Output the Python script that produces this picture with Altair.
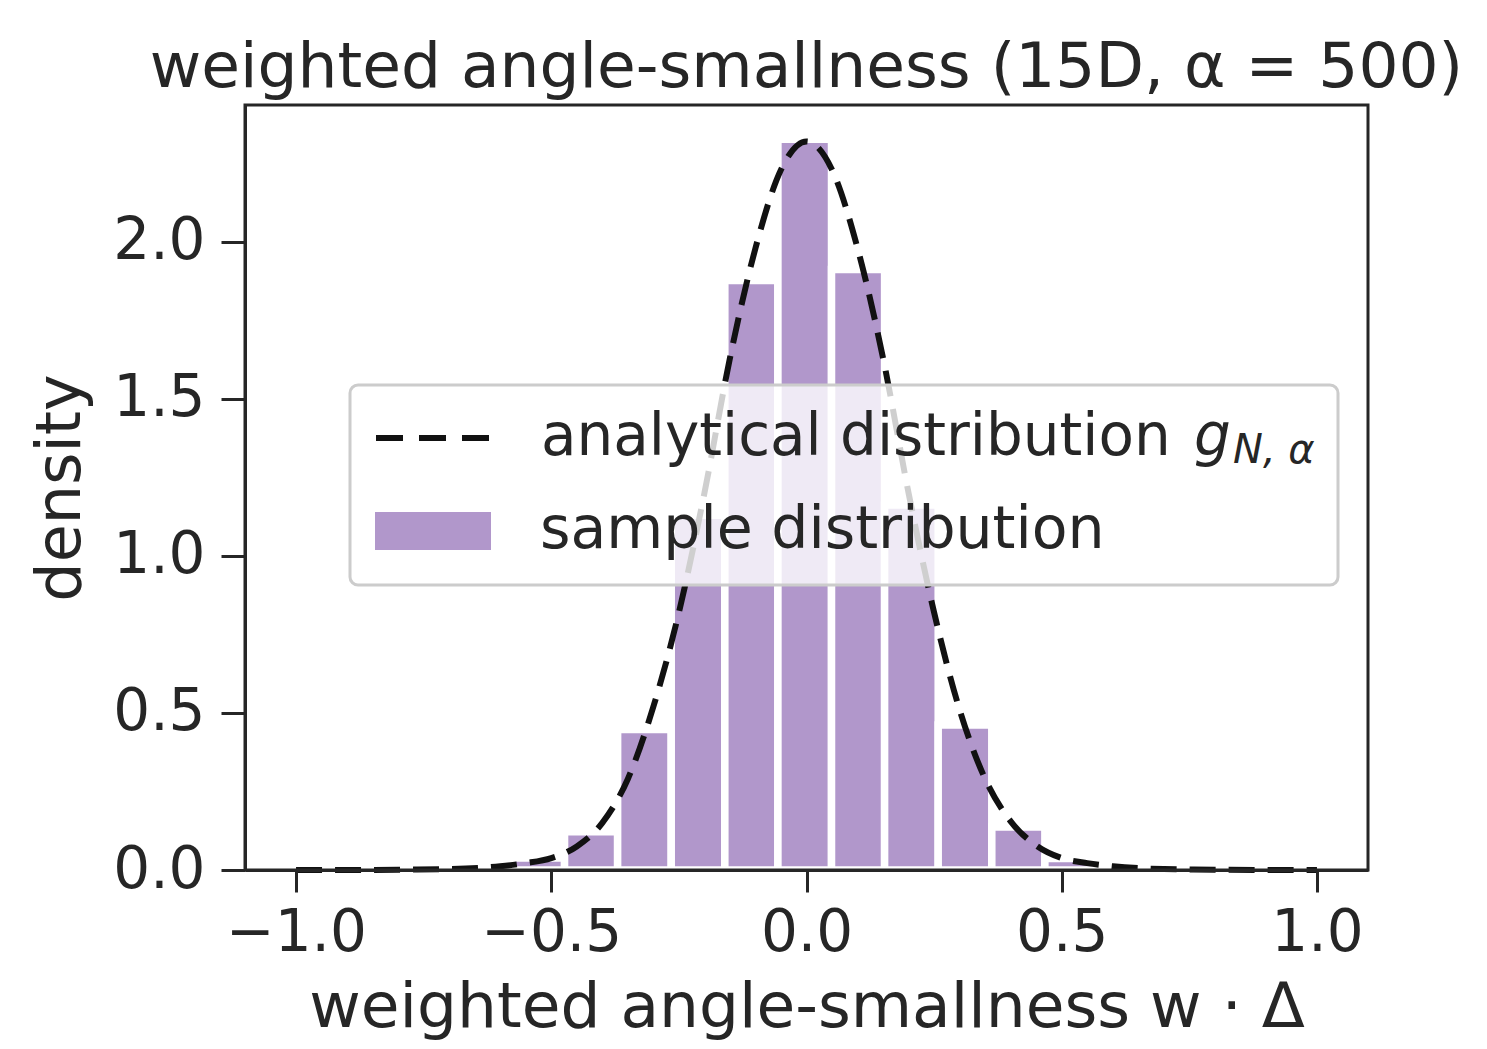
import altair as alt
import pandas as pd

# ---- data ----
bin_start = [-0.579, -0.474, -0.370, -0.265, -0.160, -0.056, 0.049, 0.153, 0.258, 0.363, 0.467]
bin_end = [-0.474, -0.370, -0.265, -0.160, -0.056, 0.049, 0.153, 0.258, 0.363, 0.467, 0.572]
bin_density = [0.038, 0.122, 0.447, 1.13, 1.877, 2.327, 1.912, 1.162, 0.462, 0.137, 0.037]

curve_x = [-1.0, -0.9, -0.8, -0.7, -0.6, -0.55, -0.5, -0.45, -0.4, -0.35, -0.3, -0.25, -0.2,
           -0.15, -0.1, -0.05, 0.0, 0.05, 0.1, 0.15, 0.2, 0.25, 0.3, 0.35, 0.4, 0.45, 0.5,
           0.55, 0.6, 0.7, 0.8, 0.9, 1.0]
curve_y = [0.0, 0.0, 0.001, 0.003, 0.012, 0.022, 0.038, 0.075, 0.15, 0.29, 0.52, 0.82, 1.20,
           1.63, 1.98, 2.23, 2.32, 2.23, 1.98, 1.63, 1.20, 0.82, 0.51, 0.29, 0.155, 0.078, 0.038,
           0.022, 0.012, 0.003, 0.001, 0.0, 0.0]

x_ticks = [-1.0, -0.5, 0.0, 0.5, 1.0]
y_ticks = [0.0, 0.5, 1.0, 1.5, 2.0]

title_text = "weighted angle-smallness (15D, α = 500)"
x_title = "weighted angle-smallness w · Δ"
y_title = "density"
legend_line_label = "analytical distribution"
legend_line_sym = "g"
legend_line_sub = "N, α"
legend_bar_label = "sample distribution"

FONT = "DejaVu Sans"
INK = "#262626"
PURPLE = "#b197cb"

W, H = 1123, 765

bars_df = pd.DataFrame({"start": bin_start, "end": bin_end, "density": bin_density})
curve_df = pd.DataFrame({"x": curve_x, "y": curve_y})
one = pd.DataFrame({"k": [0]})

xscale = alt.Scale(domain=[-1.1, 1.1], nice=False, zero=False)
yscale = alt.Scale(domain=[0, 2.436], nice=False, zero=False)

xaxis = alt.Axis(values=x_ticks, format=".1f", grid=False, domain=True, domainColor=INK,
                 domainWidth=3, tickSize=22, tickWidth=3, tickColor=INK, labelFontSize=58,
                 labelColor=INK, labelPadding=12, labelFont=FONT, title=x_title,
                 titleFontSize=63, titleFont=FONT, titleColor=INK, titleFontWeight="normal",
                 titlePadding=14, zindex=1)
yaxis = alt.Axis(values=y_ticks, format=".1f", grid=False, domain=True, domainColor=INK,
                 domainWidth=3, tickSize=24, tickWidth=3, tickColor=INK, labelFontSize=58,
                 labelColor=INK, labelPadding=16, labelFont=FONT, title=y_title,
                 titleFontSize=62, titleFont=FONT, titleColor=INK, titleFontWeight="normal",
                 titlePadding=20, zindex=1)

bars = alt.Chart(bars_df).mark_rect(color=PURPLE, stroke="white", strokeWidth=7.5).encode(
    x=alt.X("start:Q", scale=xscale, axis=xaxis),
    x2="end:Q",
    y=alt.Y("density:Q", scale=yscale, axis=yaxis),
    y2=alt.datum(0),
)

curve = alt.Chart(curve_df).mark_line(color="#111111", strokeWidth=6, strokeDash=[26, 13],
                                      interpolate="monotone").encode(
    x=alt.X("x:Q", scale=xscale),
    y=alt.Y("y:Q", scale=yscale),
)

# ---- axes frame (decoration) ----
frame = alt.Chart(one).mark_rect(fill=None, fillOpacity=0, stroke=INK, strokeWidth=3).encode(
    x=alt.value(0), x2=alt.value(W), y=alt.value(0), y2=alt.value(H))

# ---- legend box (decoration) ----
leg_box = alt.Chart(one).mark_rect(fill="white", fillOpacity=0.8, stroke="#cccccc",
                                   strokeWidth=3, cornerRadius=8).encode(
    x=alt.value(105), x2=alt.value(1093), y=alt.value(280), y2=alt.value(480))
leg_line = alt.Chart(one).mark_rule(color="#111111", strokeWidth=6, strokeDash=[27, 16]).encode(
    x=alt.value(131), x2=alt.value(247), y=alt.value(333))
leg_patch = alt.Chart(one).mark_rect(color=PURPLE).encode(
    x=alt.value(130), x2=alt.value(246), y=alt.value(407), y2=alt.value(445))
leg_t1 = alt.Chart(one).mark_text(text=legend_line_label, font=FONT, fontSize=58, color=INK,
                                  align="left", baseline="alphabetic").encode(
    x=alt.value(296), y=alt.value(350))
leg_t1g = alt.Chart(one).mark_text(text=legend_line_sym, font=FONT, fontSize=58, color=INK,
                                   fontStyle="italic", align="left", baseline="alphabetic").encode(
    x=alt.value(949), y=alt.value(350))
leg_t1s = alt.Chart(one).mark_text(text=legend_line_sub, font=FONT, fontSize=40, color=INK,
                                   fontStyle="italic", align="left", baseline="alphabetic").encode(
    x=alt.value(988), y=alt.value(358))
leg_t2 = alt.Chart(one).mark_text(text=legend_bar_label, font=FONT, fontSize=58.5, color=INK,
                                  align="left", baseline="alphabetic").encode(
    x=alt.value(295), y=alt.value(443))

chart = alt.layer(bars, curve, frame, leg_box, leg_line, leg_patch, leg_t1, leg_t1g, leg_t1s,
                  leg_t2).properties(
    width=W, height=H,
    title=alt.TitleParams(title_text, font=FONT, fontSize=63, color=INK, fontWeight="normal",
                          anchor="middle", offset=4),
    autosize=alt.AutoSizeParams(type="none"),
    padding={"left": 245, "top": 105, "right": 119, "bottom": 179},
).configure(background="white").configure_view(strokeWidth=0)

chart.save("out.html", embed_options={"renderer": "svg", "actions": False})
